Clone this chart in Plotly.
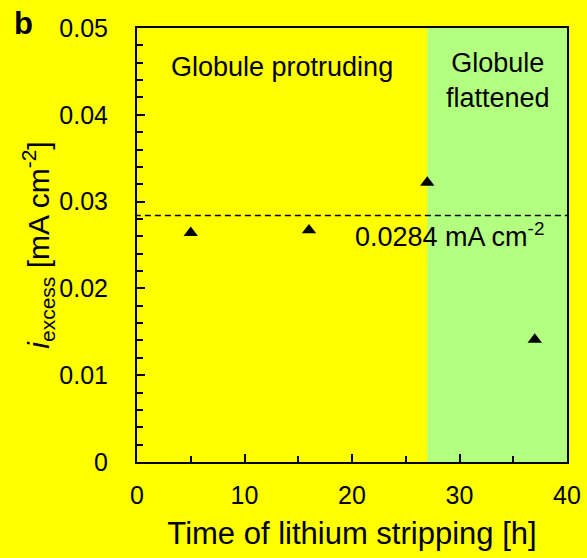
import plotly.graph_objects as go

# Data
time_h = [5, 16, 27, 37]
i_excess = [0.0264, 0.0267, 0.0322, 0.0141]
mean_value = 0.0284
flattened_start = 27
x_max = 40
y_max = 0.05
y_tickvals = [0, 0.01, 0.02, 0.03, 0.04, 0.05]
y_ticktext = ["0", "0.01", "0.02", "0.03", "0.04", "0.05"]
x_tickvals = [0, 10, 20, 30, 40]

FONT = "Liberation Sans, Arial, sans-serif"

fig = go.Figure()

fig.add_trace(go.Scatter(
    x=time_h, y=i_excess, mode="markers",
    marker=dict(symbol="triangle-up", size=12.5, color="black"),
    showlegend=False, hoverinfo="x+y",
))

# green region
fig.add_shape(type="rect", xref="x", yref="y", x0=flattened_start, x1=x_max,
              y0=0, y1=y_max, fillcolor="#B3FF80", line=dict(width=0), layer="below")
# dashed mean line
fig.add_shape(type="line", xref="paper", yref="y", x0=-0.005, x1=1,
              y0=mean_value, y1=mean_value,
              line=dict(color="black", width=1.5, dash="6px,4px"))

fig.add_annotation(x=(282 - 137) / 430, y=1 - (67 - 28) / 434, xref="paper", yref="paper",
                   text="Globule protruding", showarrow=False,
                   font=dict(family=FONT, size=27, color="black"),
                   xanchor="center", yanchor="middle")
fig.add_annotation(x=(498 - 137) / 430, y=1 - (80 - 28) / 434, xref="paper", yref="paper",
                   text="Globule<br>flattened", showarrow=False,
                   font=dict(family=FONT, size=27, color="black"),
                   xanchor="center", yanchor="middle")
fig.add_annotation(x=(449 - 137) / 430, y=mean_value, xref="paper", yref="y",
                   text=f"{mean_value} mA cm<sup>-2</sup>", showarrow=False,
                   font=dict(family=FONT, size=27, color="black"),
                   xanchor="center", yanchor="top", yshift=-1)
fig.add_annotation(x=-(137 - 23) / 430, y=1 + (28 - 23) / 434, xref="paper", yref="paper",
                   text="<b>b</b>", showarrow=False,
                   font=dict(family=FONT, size=31, color="black"),
                   xanchor="center", yanchor="middle")

fig.update_layout(
    width=587, height=558,
    margin=dict(l=137, r=20, t=28, b=96, autoexpand=False),
    paper_bgcolor="#FFFF00", plot_bgcolor="#FFFF00",
    font=dict(family=FONT, size=25, color="black"),
)

fig.update_xaxes(
    range=[0, x_max], tickvals=x_tickvals, ticks="inside", ticklen=8, tickwidth=1.5,
    tickcolor="black", showline=True, linecolor="black", linewidth=2, mirror=True,
    showgrid=False, zeroline=False, automargin=False,
    minor=dict(dtick=5, ticks="inside", ticklen=6, tickwidth=1.5, tickcolor="black"),
    tickfont=dict(size=25), ticklabelstandoff=10,
    title=dict(text="Time of lithium stripping [h]", font=dict(size=31), standoff=14),
)
fig.update_yaxes(
    range=[0, y_max], tickvals=y_tickvals, ticktext=y_ticktext, ticks="inside",
    ticklen=8, tickwidth=1.5, tickcolor="black", showline=True, linecolor="black",
    linewidth=2, mirror=True, showgrid=False, zeroline=False, automargin=False,
    minor=dict(dtick=0.002, ticks="inside", ticklen=6, tickwidth=1.5, tickcolor="black"),
    tickfont=dict(size=25), ticklabelstandoff=22,
    title=dict(text="<i>i</i><sub>excess</sub> [mA cm<sup>-2</sup>]", font=dict(size=30), standoff=1),
)

fig.write_html("out.html", config={"displayModeBar": False},
               post_script="document.body.style.margin='0';")
